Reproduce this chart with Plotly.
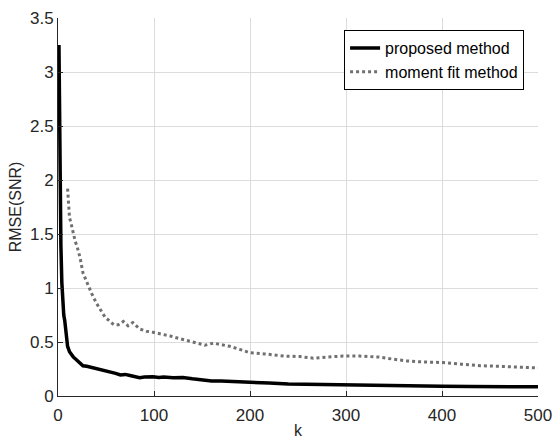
import plotly.graph_objects as go

k_prop = [1,2,3,4,5,6,7,8,9,10,12,14,16,18,20,23,26,30,35,40,44,50,55,60,65,70,75,80,85,90,95,99,105,110,120,130,140,150,155,160,170,180,190,200,220,240,252,270,290,300,320,340,360,380,400,430,460,500]
v_prop = [3.25,2.0,1.4,1.05,0.88,0.75,0.7,0.6,0.52,0.46,0.41,0.38,0.36,0.345,0.33,0.30,0.28,0.275,0.265,0.25,0.24,0.235,0.225,0.21,0.195,0.20,0.19,0.18,0.17,0.175,0.18,0.178,0.172,0.175,0.17,0.172,0.16,0.148,0.143,0.14,0.138,0.133,0.128,0.125,0.12,0.112,0.11,0.105,0.105,0.103,0.10,0.097,0.095,0.092,0.09,0.088,0.086,0.085]

k_mom = [10,11,12,13,15,18,20,23,26,30,35,40,44,49,53,58,63,68,73,78,85,92,99,108,117,127,137,145,153,162,170,179,190,200,215,235,252,266,280,297,314,335,350,363,380,401,420,440,460,474,490,500]
v_mom = [1.92,1.75,1.65,1.62,1.53,1.43,1.38,1.28,1.14,1.05,0.95,0.86,0.80,0.73,0.70,0.66,0.66,0.69,0.65,0.68,0.62,0.60,0.59,0.575,0.555,0.53,0.51,0.49,0.47,0.49,0.475,0.46,0.43,0.40,0.39,0.37,0.365,0.35,0.36,0.37,0.37,0.36,0.34,0.325,0.315,0.31,0.295,0.28,0.275,0.27,0.265,0.26]

x_ticks = [0,100,200,300,400,500]
y_ticks = [0,0.5,1,1.5,2,2.5,3,3.5]
y_labels = ["0","0.5","1","1.5","2","2.5","3","3.5"]

fig = go.Figure()
fig.add_trace(go.Scatter(x=k_prop, y=v_prop, mode="lines", name="proposed method",
                         line=dict(color="black", width=3.5)))
fig.add_trace(go.Scatter(x=k_mom, y=v_mom, mode="lines", name="moment fit method",
                         line=dict(color="#707070", width=3, dash="dot")))

font = "Liberation Sans, Arial, sans-serif"
fig.update_layout(
    width=552, height=441,
    margin=dict(l=58, r=14, t=18, b=45),
    paper_bgcolor="white", plot_bgcolor="white",
    font=dict(family=font, size=17, color="#262626"),
    showlegend=True,
    legend=dict(x=0.971, y=0.968, xanchor="right", yanchor="top",
                bgcolor="white", bordercolor="black", borderwidth=1,
                font=dict(size=16, color="black"), tracegroupgap=0,
                itemwidth=30),
)
fig.update_xaxes(range=[0, 500], tickvals=x_ticks, ticks="inside", ticklen=5,
                 tickcolor="#262626", showline=True, linecolor="#262626", linewidth=1,
                 showgrid=True, gridcolor="#dcdcdc", gridwidth=1, zeroline=False,
                 automargin=False, ticklabeloverflow="allow", ticklabelstandoff=4,
                 title=dict(text="k", font=dict(size=16), standoff=0))
fig.update_yaxes(range=[0, 3.5], tickvals=y_ticks, ticktext=y_labels, ticks="inside", ticklen=5,
                 tickcolor="#262626", showline=True, linecolor="#262626", linewidth=1,
                 showgrid=True, gridcolor="#dcdcdc", gridwidth=1, zeroline=False,
                 automargin=False, ticklabeloverflow="allow",
                 title=dict(text="RMSE(SNR)", font=dict(size=16), standoff=4))

fig.write_html("out.html", config={"displayModeBar": False},
               post_script="document.body.style.margin='0px';")
